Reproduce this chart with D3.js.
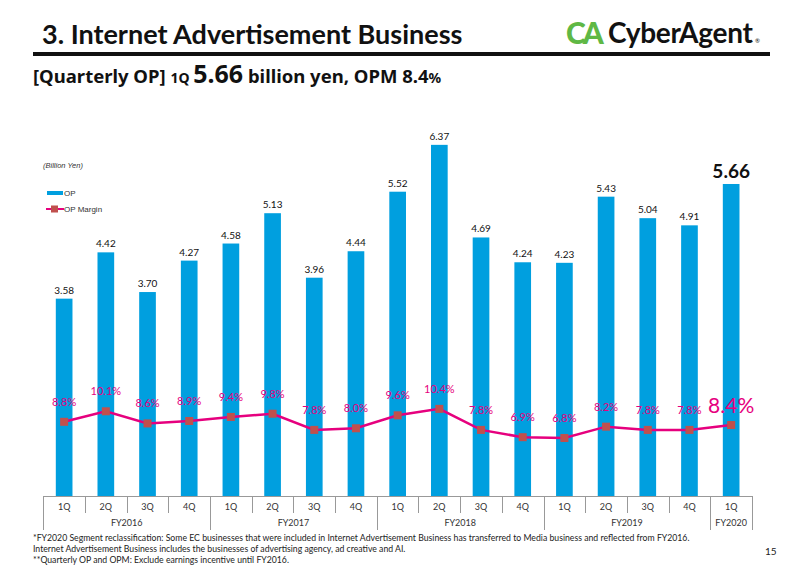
<!DOCTYPE html>
<html>
<head>
<meta charset="utf-8">
<script src="https://cdn.jsdelivr.net/npm/d3@7"></script>
<style>
  body { margin: 0; background: #fff; }
  svg { display: block; font-family: Lato, "Noto Sans", sans-serif; }
</style>
</head>
<body>
<div class="chart"></div>
<script>
const years = ['FY2016', 'FY2017', 'FY2018', 'FY2019', 'FY2020'],
    quarters = ['1Q', '2Q', '3Q', '4Q'],
    quartersPerYear = [4, 4, 4, 4, 1],
    opValues = [3.58, 4.42, 3.70, 4.27, 4.58, 5.13, 3.96, 4.44, 5.52, 6.37, 4.69, 4.24, 4.23, 5.43, 5.04, 4.91, 5.66],
    opMargin = [8.8, 10.1, 8.6, 8.9, 9.4, 9.8, 7.8, 8.0, 9.6, 10.4, 7.8, 6.9, 6.8, 8.2, 7.8, 7.8, 8.4],
    footnotes = [
        '*FY2020 Segment reclassification: Some EC businesses that were included in Internet Advertisement Business has transferred to Media business and reflected from FY2016.',
        'Internet Advertisement Business includes the businesses of advertising agency, ad creative and AI.',
        '**Quarterly OP and OPM: Exclude earnings incentive until FY2016.'
    ];

const width = 800,
    height = 565,
    barColor = '#009fdf',
    lineColor = '#e6007e',
    markerColor = '#c0504d';

// build category list from years / quarters
const cats = [];
years.forEach((y, i) => {
    for (let q = 0; q < quartersPerYear[i]; q++) {
        cats.push({ year: y, q: quarters[q], key: y + ' ' + quarters[q] });
    }
});
const data = cats.map((c, i) => ({ ...c, op: opValues[i], margin: opMargin[i] }));

const svg = d3.select('.chart').append('svg')
    .attr('width', width)
    .attr('height', height);

// header
svg.append('text')
    .attr('x', 42).attr('y', 44)
    .attr('font-size', 27).attr('font-weight', 700).attr('fill', '#111')
    .text('3. Internet Advertisement Business');
svg.append('rect')
    .attr('x', 33).attr('y', 52).attr('width', 737).attr('height', 4)
    .attr('fill', '#111');

// logo
svg.append('text').attr('x', 566).attr('y', 44)
    .attr('font-size', 30).attr('font-weight', 900)
    .attr('letter-spacing', -3)
    .attr('fill', '#5fb845')
    .text('CA');
svg.append('text').attr('x', 608).attr('y', 43)
    .attr('font-size', 28).attr('font-weight', 700).attr('fill', '#111')
    .attr('letter-spacing', -0.3)
    .text('CyberAgent');
svg.append('text').attr('x', 755).attr('y', 43)
    .attr('font-size', 6).attr('fill', '#111')
    .text('®');

const sub = svg.append('text').attr('x', 33).attr('y', 83)
    .attr('font-weight', 700).attr('fill', '#111').attr('font-size', 18.5)
    .attr('font-family', '"Noto Sans", Lato, sans-serif');
sub.append('tspan').text('[Quarterly OP] ');
sub.append('tspan').attr('font-size', 14).text('1Q ');
sub.append('tspan').attr('font-size', 25).text('5.66');
sub.append('tspan').text(' billion yen, OPM 8.4');
sub.append('tspan').attr('font-size', 14).text('%');

// scales
const x = d3.scaleBand()
    .domain(data.map(d => d.key))
    .range([43.3, 752])
    .padding(0);

const y = d3.scaleLinear().domain([0, 8]).range([496, 55]);
const y2 = d3.scaleLinear().domain([0, 50]).range([493, 88.5]);

const bw = x.bandwidth();

// bars
svg.append('g').selectAll('rect')
    .data(data)
    .join('rect')
    .attr('x', d => x(d.key) + bw * 0.3)
    .attr('y', d => y(d.op))
    .attr('width', bw * 0.4)
    .attr('height', d => y(0) - y(d.op))
    .attr('fill', barColor);

svg.append('g').selectAll('text')
    .data(data)
    .join('text')
    .attr('x', d => x(d.key) + bw / 2)
    .attr('y', (d, i) => i === data.length - 1 ? y(d.op) - 6 : y(d.op) - 5)
    .attr('text-anchor', 'middle')
    .attr('font-size', (d, i) => i === data.length - 1 ? 19 : 10)
    .attr('font-weight', (d, i) => i === data.length - 1 ? 700 : 400)
    .attr('fill', '#111')
    .text(d => d.op.toFixed(2));

// margin line
const line = d3.line()
    .x(d => x(d.key) + bw / 2)
    .y(d => y2(d.margin));

svg.append('path')
    .datum(data)
    .attr('d', line)
    .attr('fill', 'none')
    .attr('stroke', lineColor)
    .attr('stroke-width', 2.5);

svg.append('g').selectAll('rect')
    .data(data)
    .join('rect')
    .attr('x', d => x(d.key) + bw / 2 - 4)
    .attr('y', d => y2(d.margin) - 4)
    .attr('width', 8)
    .attr('height', 8)
    .attr('fill', markerColor);

svg.append('g').selectAll('text')
    .data(data)
    .join('text')
    .attr('x', d => x(d.key) + bw / 2)
    .attr('y', (d, i) => i === data.length - 1 ? y2(d.margin) - 12 : y2(d.margin) - 16)
    .attr('text-anchor', 'middle')
    .attr('font-size', (d, i) => i === data.length - 1 ? 21 : 11)
    .attr('fill', lineColor)
    .text(d => d.margin.toFixed(1) + '%');

// category axis table
const axis = svg.append('g').attr('stroke', '#999').attr('stroke-width', 1);
axis.append('line')
    .attr('x1', x.range()[0]).attr('x2', x.range()[1])
    .attr('y1', 496.5).attr('y2', 496.5);

const yearStart = new Set();
let idx = 0;
quartersPerYear.forEach(n => { yearStart.add(idx); idx += n; });

data.forEach((d, i) => {
    const xx = Math.round(x(d.key)) + 0.5;
    axis.append('line')
        .attr('x1', xx).attr('x2', xx)
        .attr('y1', 496).attr('y2', yearStart.has(i) ? 530 : 513);
});
axis.append('line')
    .attr('x1', Math.round(x.range()[1]) + 0.5).attr('x2', Math.round(x.range()[1]) + 0.5)
    .attr('y1', 496).attr('y2', 530);

svg.append('g').selectAll('text')
    .data(data)
    .join('text')
    .attr('x', d => x(d.key) + bw / 2)
    .attr('y', 510)
    .attr('text-anchor', 'middle')
    .attr('font-size', 9)
    .attr('fill', '#333')
    .text(d => d.q);

svg.append('g').selectAll('text')
    .data(years)
    .join('text')
    .attr('x', y0 => {
        const ks = data.filter(d => d.year === y0);
        return (x(ks[0].key) + x(ks[ks.length - 1].key) + bw) / 2;
    })
    .attr('y', 526)
    .attr('text-anchor', 'middle')
    .attr('font-size', 9)
    .attr('fill', '#333')
    .text(d => d);

// legend
svg.append('text')
    .attr('x', 43).attr('y', 168)
    .attr('font-size', 7.5).attr('font-style', 'italic').attr('fill', '#333')
    .attr('font-family', 'Liberation Sans, Arial, sans-serif')
    .text('(Billion Yen)');
svg.append('rect')
    .attr('x', 47).attr('y', 191).attr('width', 16).attr('height', 4)
    .attr('fill', barColor);
svg.append('text')
    .attr('x', 64).attr('y', 196)
    .attr('font-size', 8).attr('fill', '#333')
    .attr('font-family', 'Liberation Sans, Arial, sans-serif')
    .text('OP');
svg.append('line')
    .attr('x1', 46).attr('x2', 64).attr('y1', 209).attr('y2', 209)
    .attr('stroke', lineColor).attr('stroke-width', 2);
svg.append('rect')
    .attr('x', 51).attr('y', 205.5).attr('width', 7).attr('height', 7)
    .attr('fill', markerColor);
svg.append('text')
    .attr('x', 64).attr('y', 212)
    .attr('font-size', 8).attr('fill', '#333')
    .attr('font-family', 'Liberation Sans, Arial, sans-serif')
    .text('OP Margin');

// footnotes
svg.append('g').selectAll('text')
    .data(footnotes)
    .join('text')
    .attr('x', 33)
    .attr('y', (d, i) => 541 + i * 11)
    .attr('font-size', 8.7)
    .attr('fill', '#222')
    .text(d => d);

svg.append('text')
    .attr('x', 765).attr('y', 555)
    .attr('font-size', 10).attr('fill', '#222')
    .text('15');
</script>
</body>
</html>
